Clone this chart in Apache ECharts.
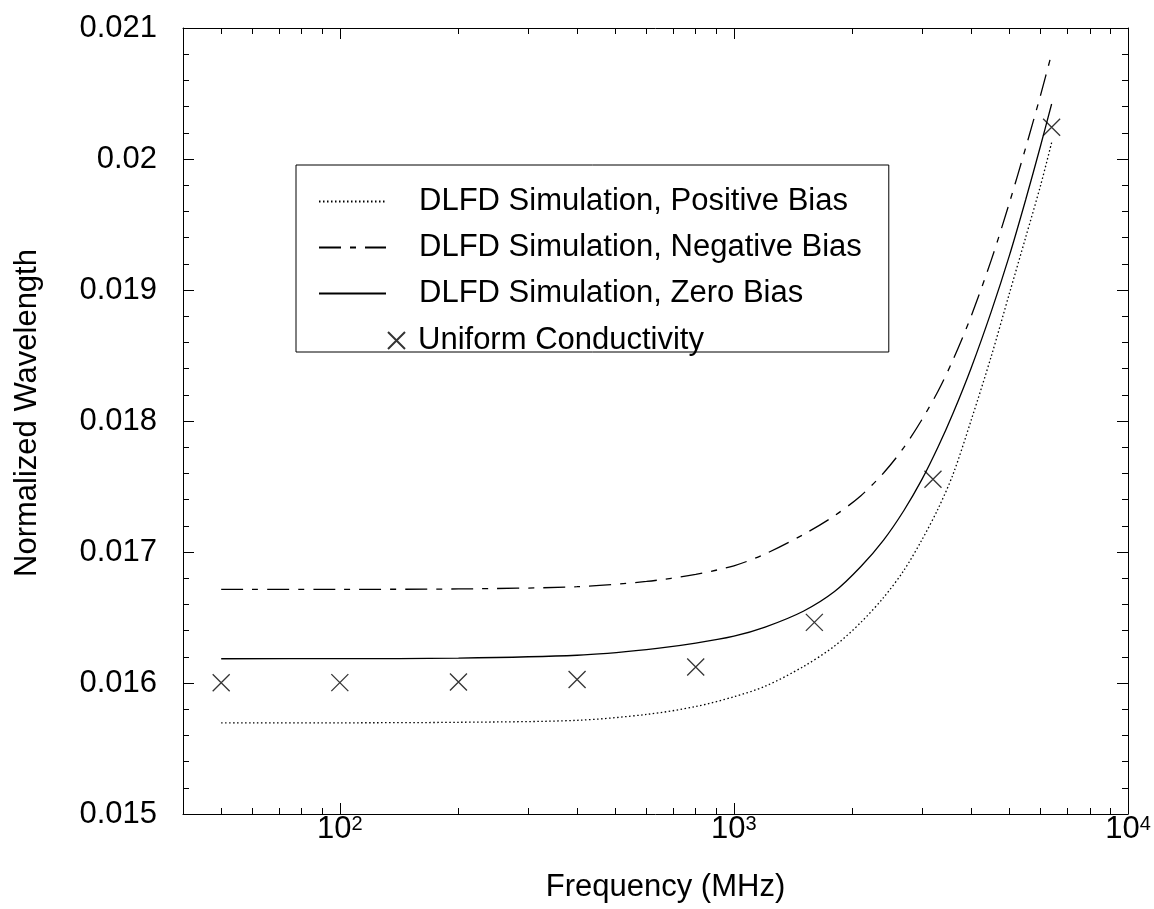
<!DOCTYPE html>
<html>
<head>
<meta charset="utf-8">
<script src="https://cdn.jsdelivr.net/npm/echarts@6/dist/echarts.min.js"></script>
<style>html,body{margin:0;padding:0;background:#fff}#chart{width:1154px;height:909px}</style>
</head>
<body>
<div id="chart"></div>
<script>
// ---- data ----
var simFreq = [50, 100, 200, 400, 600, 800, 1000, 1200, 1500, 1800, 2100, 2400, 2700, 3000, 3300, 3600, 4000, 4500, 5000, 5500, 6000, 6400];
var positiveBias = [0.015695, 0.015696, 0.015700, 0.015715, 0.015760, 0.015820, 0.015895, 0.015975, 0.016125, 0.016282, 0.016463, 0.016654, 0.016860, 0.017093, 0.017333, 0.017595, 0.018006, 0.018496, 0.018973, 0.019402, 0.019798, 0.020125];
var negativeBias = [0.016714, 0.016715, 0.016718, 0.016735, 0.016775, 0.016830, 0.016895, 0.016985, 0.017133, 0.017277, 0.017430, 0.017605, 0.017798, 0.018011, 0.018231, 0.018469, 0.018801, 0.019230, 0.019665, 0.020086, 0.020488, 0.020804];
var zeroBias = [0.016185, 0.016186, 0.016190, 0.016212, 0.016255, 0.016305, 0.016358, 0.016427, 0.016548, 0.016698, 0.016889, 0.017093, 0.017317, 0.017554, 0.017805, 0.018061, 0.018405, 0.018837, 0.019262, 0.019689, 0.020101, 0.020420];
var uniformFreq = [50, 100, 200, 400, 800, 1600, 3200, 6400];
var uniformCond = [0.016002, 0.016003, 0.016007, 0.016027, 0.016122, 0.016463, 0.017555, 0.020242];
var seriesNames = ['DLFD Simulation, Positive Bias', 'DLFD Simulation, Negative Bias', 'DLFD Simulation, Zero Bias', 'Uniform Conductivity'];
var xMajorTicks = [100, 1000, 10000];
var xTickBase = ['10', '10', '10'];
var xTickExp = ['2', '3', '4'];
var xMinorTicks = [50, 60, 70, 80, 90, 200, 300, 400, 500, 600, 700, 800, 900, 2000, 3000, 4000, 5000, 6000, 7000, 8000, 9000];
var xName = 'Frequency (MHz)';
var yName = 'Normalized Wavelength';

function pairs(xs, ys) { return xs.map(function (x, i) { return [x, ys[i]]; }); }

var FONT = '"Liberation Sans", Arial, Helvetica, sans-serif';
var chart = echarts.init(document.getElementById('chart'), null, { renderer: 'canvas' });

function xAxisDef(pos, major, labels) {
  return {
    type: 'log', logBase: 10, min: 40, max: 10000, position: pos, gridIndex: 0,
    axisLine: { show: major, lineStyle: { color: '#000', width: 1 } },
    axisTick: { show: true, inside: true, length: major ? 11 : 6, lineStyle: { color: '#000', width: 1 },
      customValues: major ? xMajorTicks : xMinorTicks },
    axisLabel: labels ? {
      show: true, margin: 0, customValues: xMajorTicks,
      formatter: function (v) {
        var i = -1;
        for (var k = 0; k < xMajorTicks.length; k++) if (Math.abs(xMajorTicks[k] - v) / v < 1e-6) i = k;
        return i < 0 ? '' : '{b|' + xTickBase[i] + '}{s|' + xTickExp[i] + '}';
      },
      rich: {
        b: { fontSize: 31, lineHeight: 31, fontFamily: FONT, color: '#000', verticalAlign: 'bottom', padding: [14, 0, 0, 0] },
        s: { fontSize: 20, lineHeight: 20, fontFamily: FONT, color: '#000', verticalAlign: 'top' }
      }
    } : { show: false },
    splitLine: { show: false }, minorTick: { show: false }, minorSplitLine: { show: false },
    name: labels ? xName : '', nameLocation: 'middle', nameGap: 58,
    nameTextStyle: { fontSize: 31, fontFamily: FONT, color: '#000', padding: [0, 0, 0, 20] },
    silent: true
  };
}
function yAxisDef(pos, labels) {
  return {
    type: 'value', min: 0.015, max: 0.021, interval: 0.001, position: pos, gridIndex: 0,
    axisLine: { show: true, lineStyle: { color: '#000', width: 1 } },
    axisTick: { show: true, inside: true, length: 11, lineStyle: { color: '#000', width: 1 } },
    minorTick: { show: true, splitNumber: 5, length: 6, lineStyle: { color: '#000', width: 1 } },
    axisLabel: { show: labels, margin: 26, fontSize: 31, fontFamily: FONT, color: '#000' },
    splitLine: { show: false }, minorSplitLine: { show: false },
    name: labels ? yName : '', nameLocation: 'middle', nameGap: 140,
    nameTextStyle: { fontSize: 31, fontFamily: FONT, color: '#000', padding: [0, 0, 0, 16] },
    silent: true
  };
}

var hiddenSym = { color: 'rgba(0,0,0,0)', borderColor: 'rgba(0,0,0,0)', borderWidth: 0 };

var option = {
  animation: false,
  backgroundColor: '#fff',
  textStyle: { fontFamily: FONT, color: '#000' },
  grid: { left: 183, right: 26, top: 28, bottom: 95, containLabel: false },
  xAxis: [xAxisDef('bottom', true, true), xAxisDef('bottom', false, false), xAxisDef('top', true, false), xAxisDef('top', false, false)],
  yAxis: [yAxisDef('left', true), yAxisDef('right', false)],
  legend: [{
    data: seriesNames.slice(0, 3).map(function (n) { return { name: n, itemStyle: hiddenSym }; }),
    orient: 'vertical', left: 296, top: 165,
    padding: [21, 27, 43, 22], itemGap: 15, itemWidth: 67, itemHeight: 24,
    itemStyle: hiddenSym,
    borderColor: '#000', borderWidth: 1, backgroundColor: '#fff', selectedMode: false,
    textStyle: { fontSize: 31, fontFamily: FONT, color: '#000', padding: [0, 0, 0, 28] }
  }, {
    data: [seriesNames[3]], orient: 'vertical', left: 387, top: 325,
    padding: 0, itemWidth: 17, itemHeight: 17, selectedMode: false,
    textStyle: { fontSize: 31, fontFamily: FONT, color: '#000', padding: [0, 0, 0, 8] }
  }],
  series: [{
    name: seriesNames[0], type: 'line', xAxisIndex: 0, yAxisIndex: 0,
    data: pairs(simFreq, positiveBias), symbol: 'none', showSymbol: false, smooth: 0.3,
    lineStyle: { color: '#000', width: 1.3, type: [1.5, 2.5] }, itemStyle: { color: '#000' }
  }, {
    name: seriesNames[1], type: 'line', xAxisIndex: 0, yAxisIndex: 0,
    data: pairs(simFreq, negativeBias), symbol: 'none', showSymbol: false, smooth: 0.3,
    lineStyle: { color: '#000', width: 1.3, type: [22, 9, 6, 9] }, itemStyle: { color: '#000' }
  }, {
    name: seriesNames[2], type: 'line', xAxisIndex: 0, yAxisIndex: 0,
    data: pairs(simFreq, zeroBias), symbol: 'none', showSymbol: false, smooth: 0.3,
    lineStyle: { color: '#000', width: 1.3, type: 'solid' }, itemStyle: { color: '#000' }
  }, {
    name: seriesNames[3], type: 'scatter', xAxisIndex: 0, yAxisIndex: 0, z: 5,
    data: pairs(uniformFreq, uniformCond),
    symbol: 'path://M0,0L10,10M10,0L0,10', symbolSize: 17,
    itemStyle: { color: 'rgba(0,0,0,0)', borderColor: '#000', borderWidth: 1.3 }
  }]
};
chart.setOption(option);
</script>
</body>
</html>
